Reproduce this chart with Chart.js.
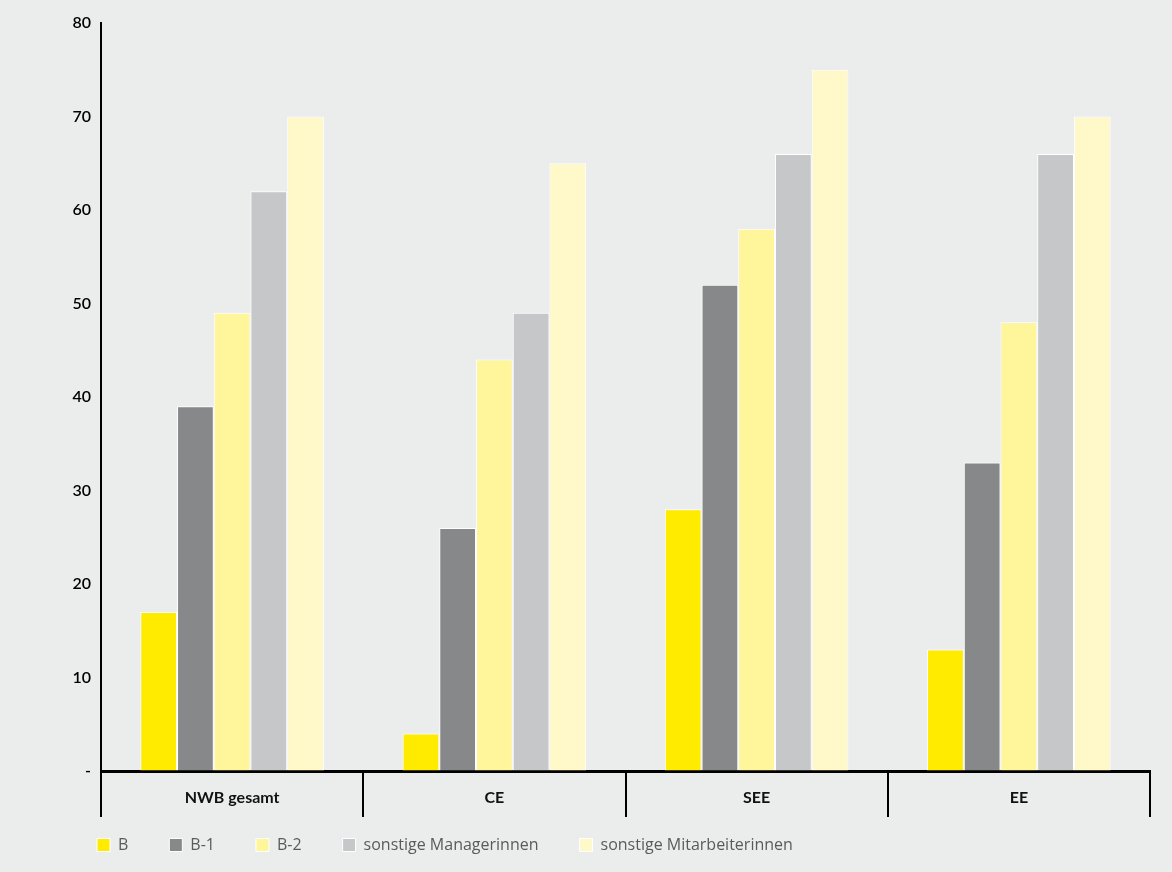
<!DOCTYPE html>
<html>
<head>
<meta charset="utf-8">
<script src="https://cdn.jsdelivr.net/npm/chart.js@4"></script>
<style>
  html, body { margin: 0; padding: 0; background: #ebedec; }
  #wrap { width: 1172px; height: 872px; }
</style>
</head>
<body>
<div id="wrap"><canvas id="barChart" width="1172" height="872"></canvas></div>
<script>
// Werte
const regions = ["NWB gesamt", "CE", "SEE", "EE"];
const seriesNames = ["B", "B-1", "B-2", "sonstige Managerinnen", "sonstige Mitarbeiterinnen"];
const valuesB = [17, 4, 28, 13];
const valuesB1 = [39, 26, 52, 33];
const valuesB2 = [49, 44, 58, 48];
const valuesManagerinnen = [62, 49, 66, 66];
const valuesMitarbeiterinnen = [70, 65, 75, 70];
const yTicks = [0, 10, 20, 30, 40, 50, 60, 70, 80];
const colors = ['#ffeb00', '#87888a', '#fff59b', '#c6c7c9', '#fff8c8'];

const allValues = [valuesB, valuesB1, valuesB2, valuesManagerinnen, valuesMitarbeiterinnen];

// x-Achse bis zum Canvas-Rand verlängern, damit die Beschriftungen nicht abgeschnitten werden
const unclipLabels = {
    id: 'unclipLabels',
    afterLayout: (chart) => { chart.scales.x.bottom = chart.height; }
};

const ctx = document.getElementById('barChart').getContext('2d');
const barChart = new Chart(ctx, {
    type: 'bar',
    data: {
        labels: regions,
        datasets: seriesNames.map((name, i) => ({
            label: name,
            data: allValues[i],
            backgroundColor: colors[i],
            borderColor: '#ffffff',
            borderWidth: 1,
            categoryPercentage: 0.7,
            barPercentage: 1.0
        }))
    },
    plugins: [unclipLabels],
    options: {
        responsive: false,
        animation: false,
        layout: { padding: { left: 56, right: 22, top: 23, bottom: 9 } },
        plugins: {
            legend: {
                position: 'bottom',
                align: 'start',
                labels: {
                    boxWidth: 13,
                    boxHeight: 13,
                    padding: 41,
                    color: '#5a5a5a',
                    font: { family: 'Open Sans', size: 16, weight: 'normal' }
                }
            },
            tooltip: { enabled: false }
        },
        scales: {
            x: {
                afterFit: (scale) => { scale.height = 25; },
                grid: {
                    offset: true,
                    drawOnChartArea: false,
                    drawTicks: true,
                    tickLength: 46,
                    color: '#000',
                    lineWidth: 2
                },
                border: { display: true, color: '#000', width: 3 },
                ticks: {
                    color: '#111',
                    padding: -29,
                    font: { family: 'Lato', size: 16, weight: 'bold' }
                }
            },
            y: {
                min: 0,
                max: 80,
                afterFit: (scale) => { scale.width = 45; },
                afterBuildTicks: (scale) => { scale.ticks = yTicks.map(v => ({ value: v })); },
                grid: { drawOnChartArea: false, drawTicks: false },
                border: { display: true, color: '#000', width: 2 },
                ticks: {
                    color: '#000',
                    padding: 10,
                    font: { family: 'Lato', size: 16, weight: '600' },
                    callback: (v) => v === 0 ? '-' : v
                }
            }
        }
    }
});
</script>
</body>
</html>
